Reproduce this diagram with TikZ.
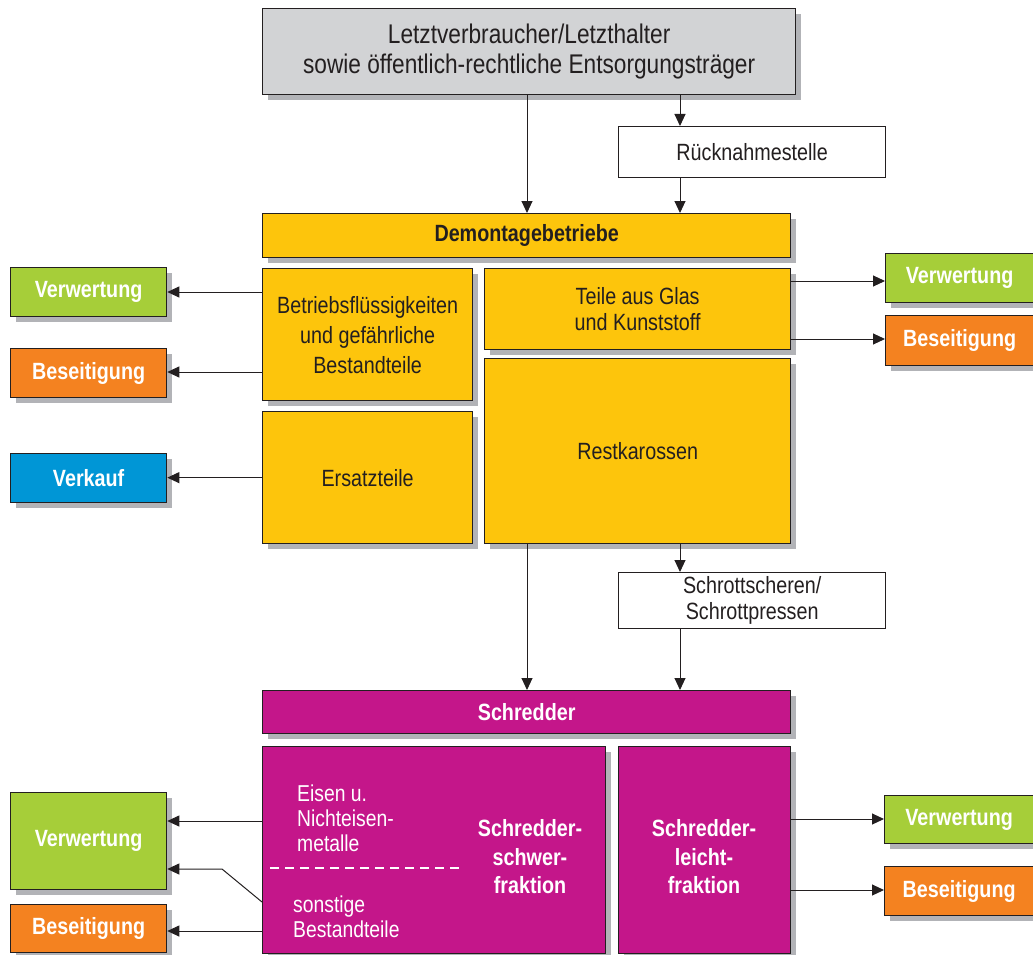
\documentclass[tikz,border=0pt]{standalone}
\usepackage{fontspec}
\setmainfont{Liberation Sans}[FakeStretch=0.84]
\usetikzlibrary{arrows.meta,shadows}

\definecolor{topgray}{RGB}{210,211,213}
\definecolor{shadgray}{RGB}{178,179,183}
\definecolor{demoyellow}{RGB}{253,197,12}
\definecolor{schredmag}{RGB}{196,22,138}
\definecolor{verwgreen}{RGB}{166,206,57}
\definecolor{beseorange}{RGB}{244,130,32}
\definecolor{verkblue}{RGB}{0,150,214}
\definecolor{inkblack}{RGB}{35,31,32}

\tikzset{
  box/.style={draw=inkblack, line width=1.3pt, anchor=north west, inner sep=0pt,
    align=center, text=inkblack, font=\fontsize{23.5}{30}\selectfont},
  shad/.style={drop shadow={shadow xshift=5pt, shadow yshift=-5pt, fill=shadgray, opacity=1}},
  gelb/.style={box, shad, fill=demoyellow},
  lila/.style={box, shad, fill=schredmag, text=white},
  fett/.style={font=\fontsize{23.5}{28.5}\selectfont\bfseries},
  ziel/.style={box, shad, fett, minimum width=156pt, text=white},
  arr/.style={-{Triangle[length=12pt,width=11pt]}, line width=1pt, draw=inkblack},
}

\begin{document}
\begin{tikzpicture}[x=1pt,y=-1pt]
  \useasboundingbox (0,0) rectangle (1033,955);

  % Anlieferung
  \node[box, shad, fill=topgray, minimum width=533pt, minimum height=86pt,
    font=\fontsize{27}{30}\selectfont] (halter) at (262,8)
    {Letztverbraucher/Letzthalter\\sowie öffentlich-rechtliche Entsorgungsträger};
  \node[box, fill=white, minimum width=267pt, minimum height=51pt] (ruecknahme) at (618,126)
    {Rücknahmestelle};

  % Demontage
  \node[gelb, fett, minimum width=528pt, minimum height=44pt] (demontage) at (262,213)
    {Demontagebetriebe};
  \node[gelb, minimum width=210pt, minimum height=132pt] (fluessig) at (262,268)
    {Betriebsflüssigkeiten\\und gefährliche\\Bestandteile};
  \node[gelb, minimum width=210pt, minimum height=132pt] (ersatz) at (262,411) {Ersatzteile};
  \node[gelb, minimum width=306pt, minimum height=81pt, font=\fontsize{23.5}{26.5}\selectfont]
    (glas) at (484,268) {Teile aus Glas\\und Kunststoff};
  \node[gelb, minimum width=306pt, minimum height=185pt] (karosse) at (484,358) {Restkarossen};
  \node[box, fill=white, minimum width=267pt, minimum height=56pt,
    font=\fontsize{23.5}{25.5}\selectfont] (schrott) at (618,572)
    {Schrottscheren/\\Schrottpressen};

  % Schredder
  \node[lila, fett, minimum width=528pt, minimum height=43pt] (schredder) at (262,690) {Schredder};
  \node[lila, minimum width=343pt, minimum height=207pt] (schwer) at (262,746) {};
  \node[lila, minimum width=172pt, minimum height=207pt] (leicht) at (618,746) {};
  \node[anchor=north west, align=left, text=white, inner sep=0pt,
    font=\fontsize{23}{25}\selectfont] (metalle) at (297,785) {Eisen u.\\Nichteisen-\\metalle};
  \node[anchor=north west, align=left, text=white, inner sep=0pt,
    font=\fontsize{23}{24.5}\selectfont] (sonstige) at (293,896) {sonstige\\Bestandteile};
  \node[fett, anchor=center, align=center, text=white, inner sep=0pt] (schwertext) at (530,857)
    {Schredder-\\schwer-\\fraktion};
  \node[fett, anchor=center, align=center, text=white, inner sep=0pt] (leichttext) at (704,857)
    {Schredder-\\leicht-\\fraktion};
  \draw[white, line width=1.2pt, dash pattern=on 9pt off 6pt] (270,868) -- (462,868);

  % Ziele links
  \node[ziel, fill=verwgreen, minimum height=49pt] (verwA) at (10,267) {Verwertung};
  \node[ziel, fill=beseorange, minimum height=49pt] (beseA) at (10,348) {Beseitigung};
  \node[ziel, fill=verkblue, minimum height=49pt] (verkauf) at (10,453) {Verkauf};
  \node[ziel, fill=verwgreen, minimum height=97pt] (verwC) at (10,792) {Verwertung};
  \node[ziel, fill=beseorange, minimum height=48pt] (beseC) at (10,904) {Beseitigung};

  % Ziele rechts
  \node[ziel, fill=verwgreen, minimum width=148pt, minimum height=49pt] (verwB) at (885,253) {Verwertung};
  \node[ziel, fill=beseorange, minimum width=148pt, minimum height=50pt] (beseB) at (885,315) {Beseitigung};
  \node[ziel, fill=verwgreen, minimum width=149pt, minimum height=48pt] (verwD) at (884,795) {Verwertung};
  \node[ziel, fill=beseorange, minimum width=149pt, minimum height=49pt] (beseD) at (884,866) {Beseitigung};

  % Pfeile oben
  \draw[arr] (527,0 |- halter.south) -- (527,0 |- demontage.north);
  \draw[arr] (680,0 |- halter.south) -- (680,0 |- ruecknahme.north);
  \draw[arr] (680,0 |- ruecknahme.south) -- (680,0 |- demontage.north);

  % Pfeile Demontage
  \draw[arr] (fluessig.west |- 0,292) -- (verwA.east |- 0,292);
  \draw[arr] (fluessig.west |- 0,372) -- (beseA.east |- 0,372);
  \draw[arr] (ersatz.west) -- (verkauf.east |- ersatz.west);
  \draw[arr] (glas.east |- 0,281) -- (verwB.west |- 0,281);
  \draw[arr] (glas.east |- 0,339) -- (beseB.west |- 0,339);
  \draw[arr] (527,0 |- karosse.south) -- (527,0 |- schredder.north);
  \draw[arr] (680,0 |- karosse.south) -- (680,0 |- schrott.north);
  \draw[arr] (680,0 |- schrott.south) -- (680,0 |- schredder.north);

  % Pfeile Schredder
  \draw[arr] (schwer.west |- 0,821) -- (verwC.east |- 0,821);
  \draw[arr] (schwer.west |- 0,902) -- (222,869) -- (verwC.east |- 0,869);
  \draw[arr] (schwer.west |- 0,931) -- (beseC.east |- 0,931);
  \draw[arr] (leicht.east |- 0,819) -- (verwD.west |- 0,819);
  \draw[arr] (leicht.east |- 0,890) -- (beseD.west |- 0,890);
\end{tikzpicture}
\end{document}
